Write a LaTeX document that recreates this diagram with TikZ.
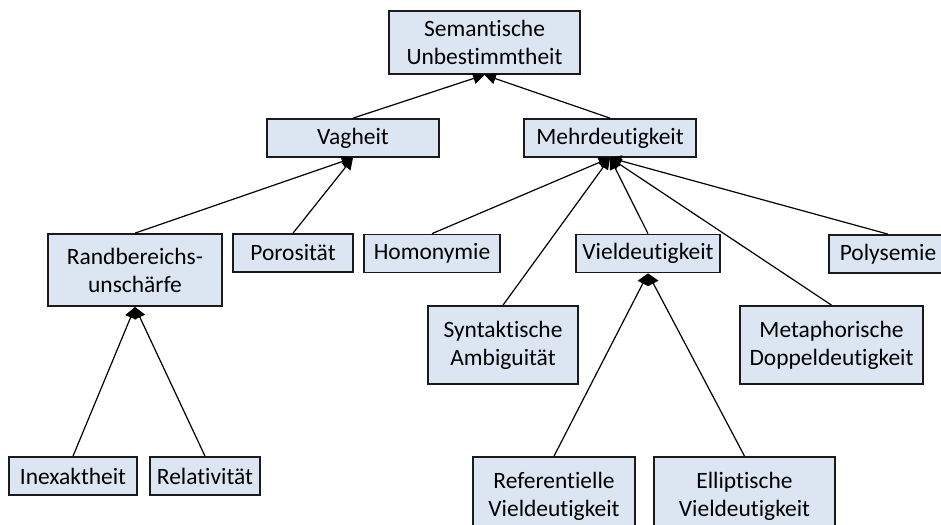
\documentclass[tikz,border=0pt]{standalone}
\usepackage{fontspec}
\setmainfont{Carlito}[Ligatures={NoCommon,NoDiscretionary,NoRare}]
\usetikzlibrary{arrows.meta}

\definecolor{boxfill}{HTML}{DCE6F2}
\definecolor{boxline}{HTML}{1A1A1A}

\tikzset{
  concept/.style={draw=boxline, line width=1.3pt, fill=boxfill, inner sep=0pt,
    align=center, font=\fontsize{17.6}{21}\selectfont},
  single/.style={concept, minimum height=38*0.75pt},
  double/.style={concept, minimum height=78*0.75pt},
  isa/.style={draw=black, line width=0.9pt,
    -{Triangle[length=8.5pt, width=8.5pt]}},
}

\begin{document}
\begin{tikzpicture}[x=0.75pt, y=-0.75pt]
  \useasboundingbox (0,0) rectangle (941,524);

  % root
  \node[concept, minimum width=191*0.75pt, minimum height=63*0.75pt] (sem) at (484.5,42.5)
    {Semantische\\Unbestimmtheit};

  % second level
  \node[single, minimum width=172*0.75pt] (vag)  at (353,138) {Vagheit};
  \node[single, minimum width=172*0.75pt] (mehr) at (610,138) {Mehrdeutigkeit};

  % below Vagheit
  \node[concept, minimum width=174*0.75pt, minimum height=72*0.75pt] (rand) at (135,270)
    {Randbereichs-\\unschärfe};
  \node[single, minimum width=120*0.75pt] (poro) at (293,253) {Porosität};

  % below Mehrdeutigkeit
  \node[single, minimum width=136*0.75pt] (homo) at (432,253.5) {Homonymie};
  \node[single, minimum width=144*0.75pt] (viel) at (648,253.5) {Vieldeutigkeit};
  \node[single, minimum width=118*0.75pt] (poly) at (888,254) {Polysemie};
  \node[double, minimum width=150*0.75pt] (synt) at (503,345) {Syntaktische\\Ambiguität};
  \node[double, minimum width=183*0.75pt] (meta) at (831.5,345) {Metaphorische\\Doppeldeutigkeit};

  % below Randbereichsunschärfe
  \node[single, minimum width=128*0.75pt] (inex) at (73,476) {Inexaktheit};
  \node[single, minimum width=110*0.75pt] (rela) at (205,476) {Relativität};

  % below Vieldeutigkeit
  \node[double, minimum width=162*0.75pt] (refe) at (554,496) {Referentielle\\Vieldeutigkeit};
  \node[double, minimum width=181*0.75pt] (elli) at (744.5,496) {Elliptische\\Vieldeutigkeit};

  % generalisation links
  \draw[isa] (vag.north)  -- (sem.south);
  \draw[isa] (mehr.north) -- (sem.south);

  \draw[isa] (rand.north) -- (vag.south);
  \draw[isa] (poro.north) -- (vag.south);

  \draw[isa] (homo.north) -- (mehr.south);
  \draw[isa] (synt.north) -- (mehr.south);
  \draw[isa] (viel.north) -- (mehr.south);
  \draw[isa] (meta.north) -- (mehr.south);
  \draw[isa] (poly.north) -- (mehr.south);

  \draw[isa] (inex.north) -- (rand.south);
  \draw[isa] (rela.north) -- (rand.south);

  \draw[isa] (refe.north) -- (viel.south);
  \draw[isa] (elli.north) -- (viel.south);
\end{tikzpicture}
\end{document}
